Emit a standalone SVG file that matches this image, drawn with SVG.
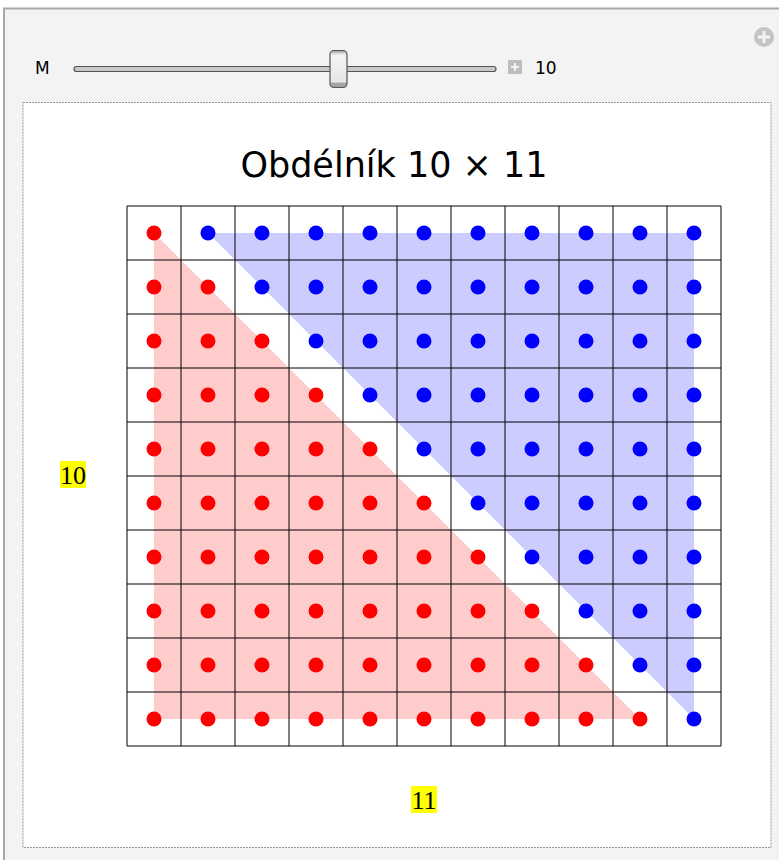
<svg xmlns="http://www.w3.org/2000/svg" width="779" height="860" viewBox="0 0 779 860">
<defs>
<style>
.grid line{stroke:#000;stroke-width:1}
.r{fill:#ff0000}
.b{fill:#0000ff}
.lbl{font-family:"Liberation Serif",serif;font-size:26px;fill:#000}
</style>
<linearGradient id="thumb" x1="0" y1="0" x2="0" y2="1">
<stop offset="0" stop-color="#9a9a9a"/>
<stop offset="0.12" stop-color="#f4f4f4"/>
<stop offset="0.85" stop-color="#e6e6e6"/>
<stop offset="0.88" stop-color="#a8a8a8"/>
<stop offset="1" stop-color="#a0a0a0"/>
</linearGradient>
</defs>
<rect x="0" y="0" width="779" height="860" fill="#ffffff"/>
<rect x="4" y="8.5" width="790" height="860" fill="#f3f3f3" stroke="#a8a8a8" stroke-width="2"/>
<g id="controls">
<text x="35" y="74" font-family="DejaVu Sans, sans-serif" font-size="17" fill="#000">M</text>
<rect x="74" y="66.5" width="422" height="5" rx="2.5" fill="#c8c8c8" stroke="#555" stroke-width="1.2"/>
<rect x="330" y="50.5" width="17" height="37" rx="4" fill="url(#thumb)" stroke="#555" stroke-width="1.2"/>
<rect x="508" y="60" width="14" height="14" fill="#bdbdbd"/>
<path d="M515 63v8M511 67h8" stroke="#f3f3f3" stroke-width="2"/>
<text x="535" y="74" font-family="DejaVu Sans, sans-serif" font-size="17" fill="#000">10</text>
<circle cx="764" cy="37" r="10" fill="#c4c4c4"/>
<path d="M764 31v12M758 37h12" stroke="#f3f3f3" stroke-width="3"/>
</g>
<rect x="23" y="102.5" width="748" height="745" fill="#ffffff" stroke="#999" stroke-width="1" stroke-dasharray="2,1"/>
<text x="394" y="177" text-anchor="middle" font-family="DejaVu Sans, sans-serif" font-size="35" fill="#000">Obdélník 10 × 11</text>
<g id="triangles">
<polygon points="154,233 154,719 640,719" fill="#ff0000" fill-opacity="0.2"/>
<polygon points="208,233 694,233 694,719" fill="#0000ff" fill-opacity="0.2"/>
</g>
<g id="grid" class="grid">
<line x1="127" y1="206" x2="127" y2="746"/>
<line x1="181" y1="206" x2="181" y2="746"/>
<line x1="235" y1="206" x2="235" y2="746"/>
<line x1="289" y1="206" x2="289" y2="746"/>
<line x1="343" y1="206" x2="343" y2="746"/>
<line x1="397" y1="206" x2="397" y2="746"/>
<line x1="451" y1="206" x2="451" y2="746"/>
<line x1="505" y1="206" x2="505" y2="746"/>
<line x1="559" y1="206" x2="559" y2="746"/>
<line x1="613" y1="206" x2="613" y2="746"/>
<line x1="667" y1="206" x2="667" y2="746"/>
<line x1="721" y1="206" x2="721" y2="746"/>
<line x1="127" y1="206" x2="721" y2="206"/>
<line x1="127" y1="260" x2="721" y2="260"/>
<line x1="127" y1="314" x2="721" y2="314"/>
<line x1="127" y1="368" x2="721" y2="368"/>
<line x1="127" y1="422" x2="721" y2="422"/>
<line x1="127" y1="476" x2="721" y2="476"/>
<line x1="127" y1="530" x2="721" y2="530"/>
<line x1="127" y1="584" x2="721" y2="584"/>
<line x1="127" y1="638" x2="721" y2="638"/>
<line x1="127" y1="692" x2="721" y2="692"/>
<line x1="127" y1="746" x2="721" y2="746"/>
</g>
<g id="red-dots" class="r">
<circle cx="154" cy="233" r="7.5"/>
<circle cx="154" cy="287" r="7.5"/><circle cx="208" cy="287" r="7.5"/>
<circle cx="154" cy="341" r="7.5"/><circle cx="208" cy="341" r="7.5"/><circle cx="262" cy="341" r="7.5"/>
<circle cx="154" cy="395" r="7.5"/><circle cx="208" cy="395" r="7.5"/><circle cx="262" cy="395" r="7.5"/><circle cx="316" cy="395" r="7.5"/>
<circle cx="154" cy="449" r="7.5"/><circle cx="208" cy="449" r="7.5"/><circle cx="262" cy="449" r="7.5"/><circle cx="316" cy="449" r="7.5"/><circle cx="370" cy="449" r="7.5"/>
<circle cx="154" cy="503" r="7.5"/><circle cx="208" cy="503" r="7.5"/><circle cx="262" cy="503" r="7.5"/><circle cx="316" cy="503" r="7.5"/><circle cx="370" cy="503" r="7.5"/><circle cx="424" cy="503" r="7.5"/>
<circle cx="154" cy="557" r="7.5"/><circle cx="208" cy="557" r="7.5"/><circle cx="262" cy="557" r="7.5"/><circle cx="316" cy="557" r="7.5"/><circle cx="370" cy="557" r="7.5"/><circle cx="424" cy="557" r="7.5"/><circle cx="478" cy="557" r="7.5"/>
<circle cx="154" cy="611" r="7.5"/><circle cx="208" cy="611" r="7.5"/><circle cx="262" cy="611" r="7.5"/><circle cx="316" cy="611" r="7.5"/><circle cx="370" cy="611" r="7.5"/><circle cx="424" cy="611" r="7.5"/><circle cx="478" cy="611" r="7.5"/><circle cx="532" cy="611" r="7.5"/>
<circle cx="154" cy="665" r="7.5"/><circle cx="208" cy="665" r="7.5"/><circle cx="262" cy="665" r="7.5"/><circle cx="316" cy="665" r="7.5"/><circle cx="370" cy="665" r="7.5"/><circle cx="424" cy="665" r="7.5"/><circle cx="478" cy="665" r="7.5"/><circle cx="532" cy="665" r="7.5"/><circle cx="586" cy="665" r="7.5"/>
<circle cx="154" cy="719" r="7.5"/><circle cx="208" cy="719" r="7.5"/><circle cx="262" cy="719" r="7.5"/><circle cx="316" cy="719" r="7.5"/><circle cx="370" cy="719" r="7.5"/><circle cx="424" cy="719" r="7.5"/><circle cx="478" cy="719" r="7.5"/><circle cx="532" cy="719" r="7.5"/><circle cx="586" cy="719" r="7.5"/><circle cx="640" cy="719" r="7.5"/>
</g>
<g id="blue-dots" class="b">
<circle cx="208" cy="233" r="7.5"/><circle cx="262" cy="233" r="7.5"/><circle cx="316" cy="233" r="7.5"/><circle cx="370" cy="233" r="7.5"/><circle cx="424" cy="233" r="7.5"/><circle cx="478" cy="233" r="7.5"/><circle cx="532" cy="233" r="7.5"/><circle cx="586" cy="233" r="7.5"/><circle cx="640" cy="233" r="7.5"/><circle cx="694" cy="233" r="7.5"/>
<circle cx="262" cy="287" r="7.5"/><circle cx="316" cy="287" r="7.5"/><circle cx="370" cy="287" r="7.5"/><circle cx="424" cy="287" r="7.5"/><circle cx="478" cy="287" r="7.5"/><circle cx="532" cy="287" r="7.5"/><circle cx="586" cy="287" r="7.5"/><circle cx="640" cy="287" r="7.5"/><circle cx="694" cy="287" r="7.5"/>
<circle cx="316" cy="341" r="7.5"/><circle cx="370" cy="341" r="7.5"/><circle cx="424" cy="341" r="7.5"/><circle cx="478" cy="341" r="7.5"/><circle cx="532" cy="341" r="7.5"/><circle cx="586" cy="341" r="7.5"/><circle cx="640" cy="341" r="7.5"/><circle cx="694" cy="341" r="7.5"/>
<circle cx="370" cy="395" r="7.5"/><circle cx="424" cy="395" r="7.5"/><circle cx="478" cy="395" r="7.5"/><circle cx="532" cy="395" r="7.5"/><circle cx="586" cy="395" r="7.5"/><circle cx="640" cy="395" r="7.5"/><circle cx="694" cy="395" r="7.5"/>
<circle cx="424" cy="449" r="7.5"/><circle cx="478" cy="449" r="7.5"/><circle cx="532" cy="449" r="7.5"/><circle cx="586" cy="449" r="7.5"/><circle cx="640" cy="449" r="7.5"/><circle cx="694" cy="449" r="7.5"/>
<circle cx="478" cy="503" r="7.5"/><circle cx="532" cy="503" r="7.5"/><circle cx="586" cy="503" r="7.5"/><circle cx="640" cy="503" r="7.5"/><circle cx="694" cy="503" r="7.5"/>
<circle cx="532" cy="557" r="7.5"/><circle cx="586" cy="557" r="7.5"/><circle cx="640" cy="557" r="7.5"/><circle cx="694" cy="557" r="7.5"/>
<circle cx="586" cy="611" r="7.5"/><circle cx="640" cy="611" r="7.5"/><circle cx="694" cy="611" r="7.5"/>
<circle cx="640" cy="665" r="7.5"/><circle cx="694" cy="665" r="7.5"/>
<circle cx="694" cy="719" r="7.5"/>
</g>
<g id="label-rows">
<rect x="60" y="461" width="26" height="27" fill="#ffff00"/>
<text class="lbl" x="73" y="484" text-anchor="middle">10</text>
</g>
<g id="label-cols">
<rect x="411" y="786" width="26" height="27" fill="#ffff00"/>
<text class="lbl" x="424" y="809" text-anchor="middle">11</text>
</g>
</svg>
